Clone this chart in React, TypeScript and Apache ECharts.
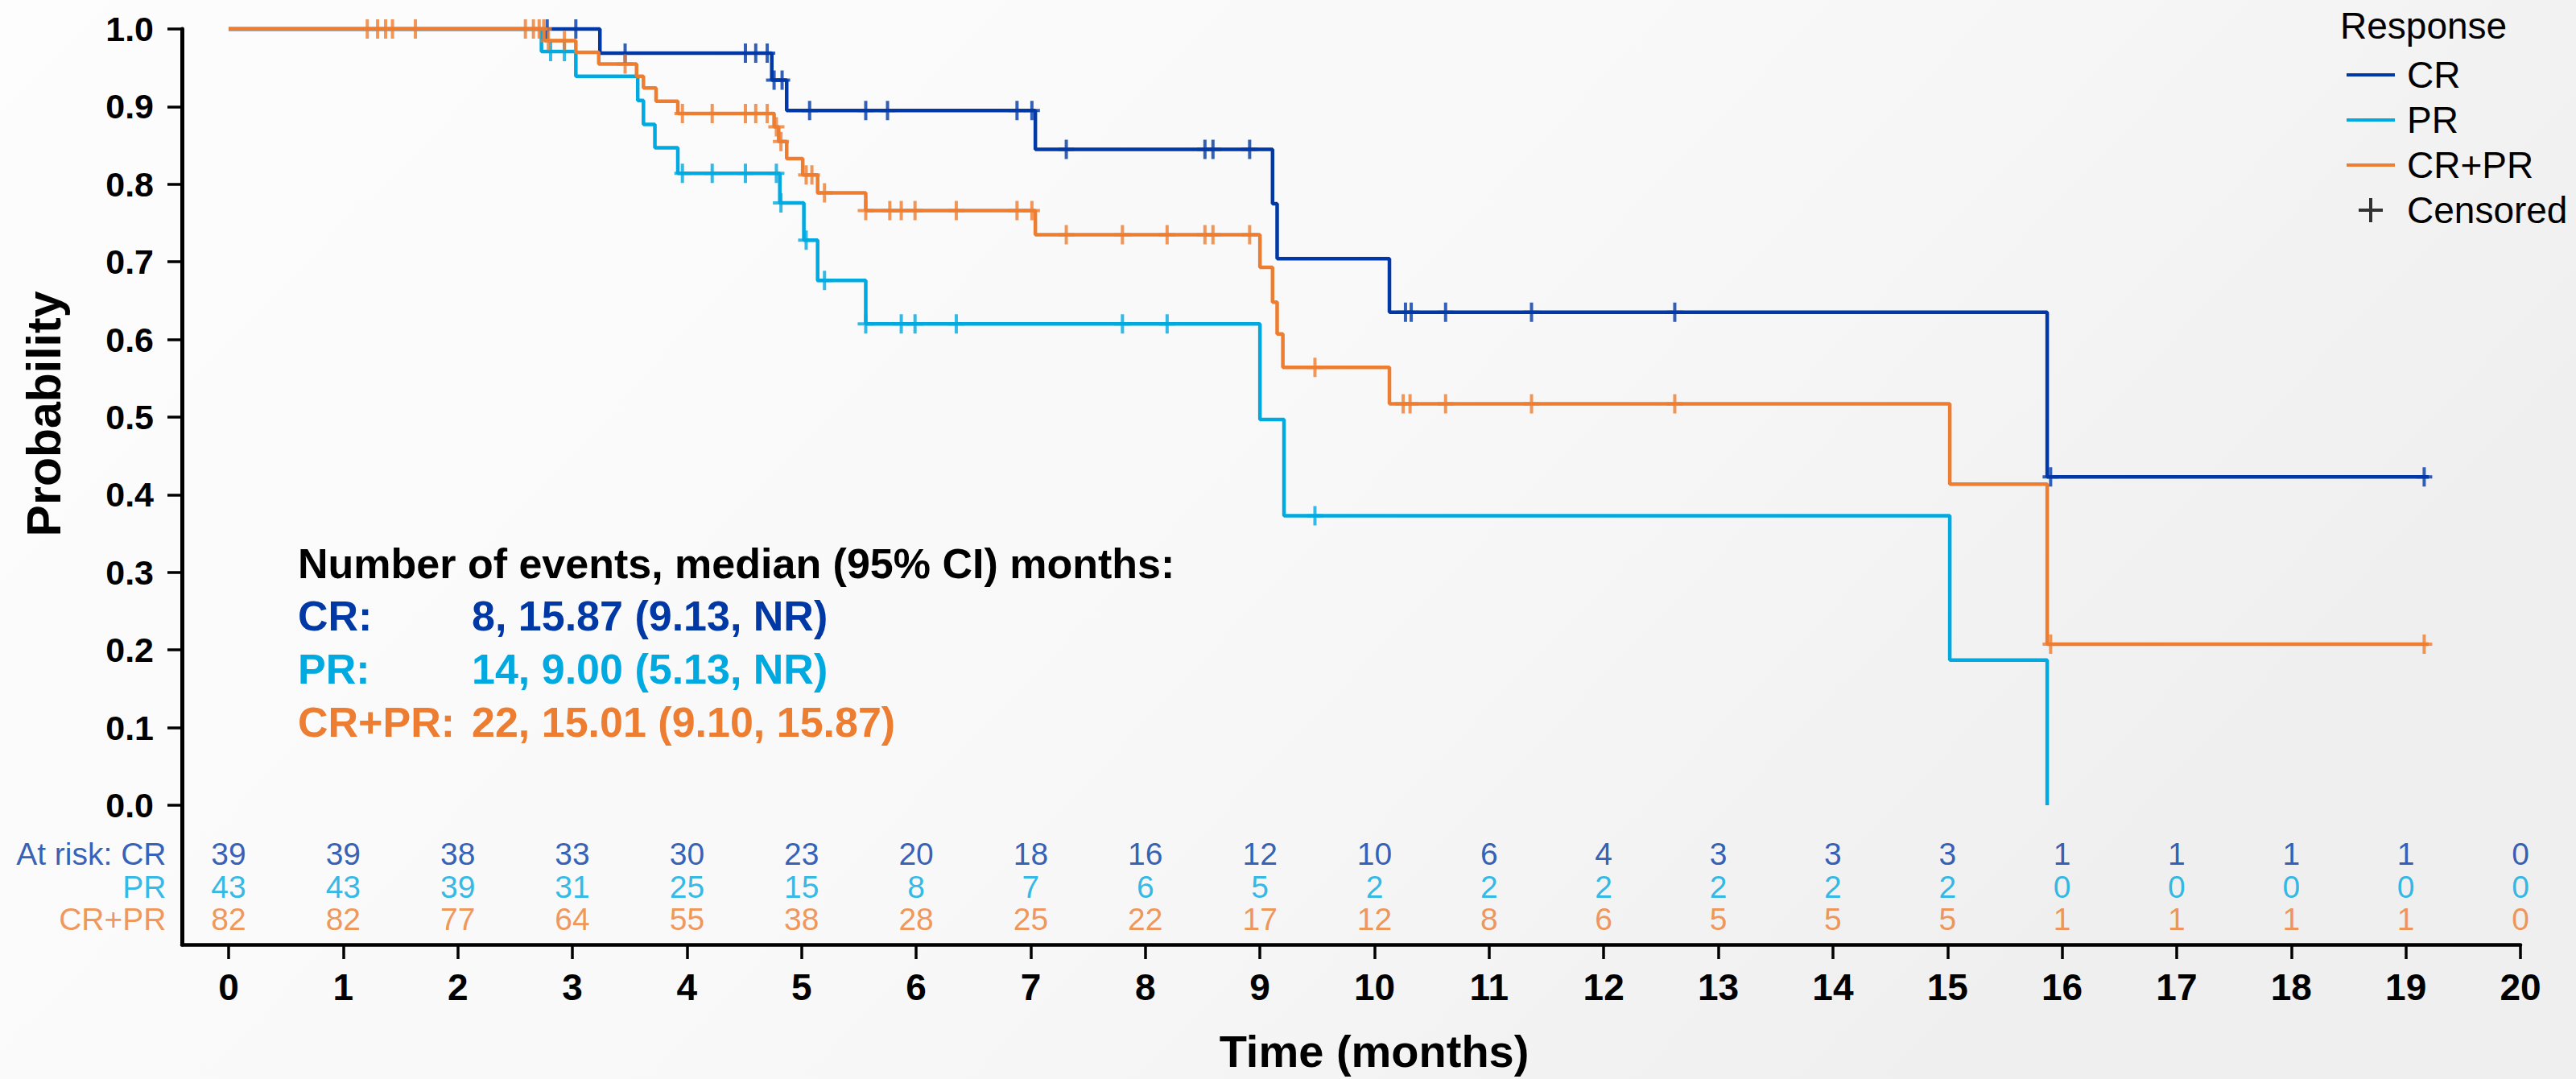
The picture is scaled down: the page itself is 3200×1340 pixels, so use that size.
import { useEffect, useRef } from "react";
import * as echarts from "echarts";

// ---------- data ----------
const MONTHS = [0, 1, 2, 3, 4, 5, 6, 7, 8, 9, 10, 11, 12, 13, 14, 15, 16, 17, 18, 19, 20];
const Y_TICKS = [0, 0.1, 0.2, 0.3, 0.4, 0.5, 0.6, 0.7, 0.8, 0.9, 1.0];

const AT_RISK_CR = [39, 39, 38, 33, 30, 23, 20, 18, 16, 12, 10, 6, 4, 3, 3, 3, 1, 1, 1, 1, 0];
const AT_RISK_PR = [43, 43, 39, 31, 25, 15, 8, 7, 6, 5, 2, 2, 2, 2, 2, 2, 0, 0, 0, 0, 0];
const AT_RISK_ALL = [82, 82, 77, 64, 55, 38, 28, 25, 22, 17, 12, 8, 6, 5, 5, 5, 1, 1, 1, 1, 0];

// Kaplan-Meier step points (time in months, survival probability)
const CR_TIMES = [0, 3.24, 4.74, 4.87, 7.04, 9.11, 9.15, 10.13, 15.87, 19.2];
const CR_SURV = [1, 0.969, 0.934, 0.895, 0.845, 0.775, 0.704, 0.635, 0.423, 0.423];
const PR_TIMES = [0, 2.73, 3.03, 3.57, 3.62, 3.72, 3.92, 4.81, 5.02, 5.14, 5.56, 9.0, 9.21, 15.02, 15.87];
const PR_SURV = [1, 0.971, 0.939, 0.908, 0.877, 0.847, 0.814, 0.776, 0.728, 0.676, 0.62, 0.497, 0.373, 0.187, 0.0];
const ALL_TIMES = [0, 2.76, 3.03, 3.23, 3.56, 3.62, 3.73, 3.92, 4.76, 4.8, 4.87, 5.01, 5.14, 5.56, 7.04, 9.0, 9.11, 9.15, 9.2, 10.13, 15.02, 15.87, 19.2];
const ALL_SURV = [1, 0.985, 0.97, 0.955, 0.939, 0.924, 0.907, 0.891, 0.874, 0.855, 0.833, 0.812, 0.789, 0.766, 0.735, 0.693, 0.648, 0.607, 0.564, 0.517, 0.4135, 0.2075, 0.2075];

// censoring times
const CR_CENSORED = [2.78, 3.03, 3.46, 4.51, 4.6, 4.7, 4.76, 4.83, 5.07, 5.56, 5.75, 6.88, 7.01, 7.31, 8.52, 8.59, 8.91, 10.27, 10.32, 10.62, 11.37, 12.62, 15.9, 19.16];
const PR_CENSORED = [2.81, 2.93, 3.96, 4.22, 4.51, 4.78, 4.82, 5.04, 5.2, 5.56, 5.87, 5.99, 6.35, 7.8, 8.19, 9.48];
const ALL_CENSORED = [1.21, 1.3, 1.37, 1.43, 1.63, 2.59, 2.66, 2.71, 2.75, 2.79, 2.93, 3.46, 3.96, 4.22, 4.51, 4.6, 4.7, 4.78, 4.82, 5.04, 5.09, 5.2, 5.56, 5.77, 5.87, 5.99, 6.35, 6.88, 7.01, 7.31, 7.8, 8.19, 8.52, 8.59, 8.91, 9.48, 10.25, 10.31, 10.62, 11.37, 12.62, 15.9, 19.16];

const GROUPS = ["CR", "PR", "CR+PR"];
const RISK_ROW_LABELS = ["At risk: CR", "PR", "CR+PR"];
const MEDIAN_HEADER = "Number of events, median (95% CI) months:";
const MEDIAN_LABELS = ["CR:", "PR:", "CR+PR:"];
const MEDIAN_VALUES = ["8, 15.87 (9.13, NR)", "14, 9.00 (5.13, NR)", "22, 15.01 (9.10, 15.87)"];

// ---------- style / layout ----------
const FONT = "'Liberation Sans', Arial, Helvetica, sans-serif";
const COLORS = ["#0039a6", "#00a9e0", "#ed7d31"];
const X_MIN = -0.4075; // x axis runs left of 0 to meet the y axis
const Y_MIN = -0.1795; // room for the at-risk table below 0
const RISK_ROW_Y = [-0.0633, -0.1058, -0.1473];
const PLUS_SYMBOL = "path://M0,10H20V14H0Z M8,0H12V24H8Z";
const LINE_ICON = "path://M0,0H60V4H0Z";
const PLUS_ICON = "path://M0,13H30V17H0Z M13,0H17V30H13Z";

function survivalAt(times: number[], surv: number[], t: number): number {
  let s = surv[0];
  for (let i = 0; i < times.length; i++) {
    if (times[i] <= t + 1e-9) s = surv[i];
  }
  return s;
}

export default function App() {
  const ref = useRef<HTMLDivElement>(null);

  useEffect(() => {
    if (!ref.current) return;
    const chart = echarts.init(ref.current, undefined, { renderer: "svg" });

    const curves = [
      { name: GROUPS[0], times: CR_TIMES, surv: CR_SURV, cens: CR_CENSORED, risk: AT_RISK_CR },
      { name: GROUPS[1], times: PR_TIMES, surv: PR_SURV, cens: PR_CENSORED, risk: AT_RISK_PR },
      { name: GROUPS[2], times: ALL_TIMES, surv: ALL_SURV, cens: ALL_CENSORED, risk: AT_RISK_ALL },
    ];

    const series: any[] = [];
    curves.forEach((c, i) => {
      series.push({
        type: "line",
        name: c.name,
        step: "end",
        data: c.times.map((t, k) => [t, c.surv[k]]),
        showSymbol: false,
        clip: false,
        lineStyle: { color: COLORS[i], width: 4.5 },
        itemStyle: { color: COLORS[i] },
        z: 2 + i,
        silent: true,
      });
    });
    curves.forEach((c, i) => {
      series.push({
        type: "scatter",
        name: c.name + " censored",
        data: c.cens.map((t) => [t, survivalAt(c.times, c.surv, t)]),
        symbol: PLUS_SYMBOL,
        symbolSize: [20, 24],
        itemStyle: { color: COLORS[i] },
        clip: false,
        z: 6 + i,
        silent: true,
      });
    });
    series.push({
      type: "scatter",
      name: "Censored",
      data: [],
      itemStyle: { color: "#000" },
    });
    curves.forEach((c, i) => {
      series.push({
        type: "scatter",
        name: "risk " + c.name,
        data: MONTHS.map((m, k) => [m, RISK_ROW_Y[i], c.risk[k]]),
        symbolSize: 1,
        itemStyle: { color: "rgba(0,0,0,0)" },
        clip: false,
        silent: true,
        label: {
          show: true,
          position: "inside",
          formatter: (p: any) => String(p.value[2]),
          color: COLORS[i],
          fontSize: 39,
          fontFamily: FONT,
        },
      });
    });
    series.push({
      type: "scatter",
      name: "risk labels",
      data: RISK_ROW_LABELS.map((lab, i) => ({
        value: [X_MIN, RISK_ROW_Y[i]],
        label: { formatter: lab, color: COLORS[i] },
      })),
      symbolSize: 1,
      itemStyle: { color: "rgba(0,0,0,0)" },
      clip: false,
      silent: true,
      label: { show: true, position: "left", distance: 19, fontSize: 39, fontFamily: FONT },
    });

    const textEl = (text: string, x: number, y: number, font: string, fill: string, extra: any = {}) => ({
      type: "text",
      x,
      y,
      silent: true,
      ...extra,
      style: {
        text,
        font,
        fill,
        textAlign: extra.align || "left",
        textVerticalAlign: "middle",
        align: extra.align || "left",
        verticalAlign: "middle",
      },
    });

    const graphics: any[] = [
      textEl("Response", 2907, 32, `46px ${FONT}`, "#000"),
      textEl("Probability", 55, 514, `bold 59px ${FONT}`, "#000", { rotation: Math.PI / 2, align: "center" }),
      textEl("Time (months)", 1707, 1305, `bold 56px ${FONT}`, "#000", { align: "center" }),
      textEl(MEDIAN_HEADER, 370, 700, `bold 52px ${FONT}`, "#000"),
    ];
    MEDIAN_LABELS.forEach((lab, i) => {
      graphics.push(textEl(lab, 370, 765 + i * 66, `bold 52px ${FONT}`, COLORS[i]));
      graphics.push(textEl(MEDIAN_VALUES[i], 586, 765 + i * 66, `bold 52px ${FONT}`, COLORS[i]));
    });

    const option: any = {
      animation: false,
      backgroundColor: {
        type: "linear",
        x: 0,
        y: 0,
        x2: 1,
        y2: 0.4,
        colorStops: [
          { offset: 0, color: "#fdfdfd" },
          { offset: 0.6, color: "#f8f8f8" },
          { offset: 1, color: "#efefef" },
        ],
      },
      grid: { left: 226, right: 69, top: 36, bottom: 167, containLabel: false },
      legend: {
        show: true,
        orient: "vertical",
        left: 2910,
        top: 65,
        itemWidth: 60,
        itemHeight: 30,
        itemGap: 10,
        selectedMode: false,
        textStyle: { fontSize: 46, lineHeight: 46, fontFamily: FONT, color: "#000", padding: [0, 0, 0, 10] },
        data: [
          { name: GROUPS[0], icon: LINE_ICON },
          { name: GROUPS[1], icon: LINE_ICON },
          { name: GROUPS[2], icon: LINE_ICON },
          { name: "Censored", icon: PLUS_ICON },
        ],
      },
      xAxis: {
        type: "value",
        min: X_MIN,
        max: 20,
        axisLine: { show: true, onZero: false, lineStyle: { color: "#000", width: 4.5 } },
        axisTick: { show: true, customValues: MONTHS, length: 18, lineStyle: { color: "#000", width: 3.5 } },
        axisLabel: {
          show: true,
          customValues: MONTHS,
          margin: 30,
          fontSize: 46,
          fontWeight: "bold",
          fontFamily: FONT,
          color: "#000",
        },
        splitLine: { show: false },
      },
      yAxis: {
        type: "value",
        min: Y_MIN,
        max: 1,
        axisLine: { show: true, onZero: false, lineStyle: { color: "#000", width: 5 } },
        axisTick: { show: true, customValues: Y_TICKS, length: 18, lineStyle: { color: "#000", width: 3.5 } },
        axisLabel: {
          show: true,
          customValues: Y_TICKS,
          margin: 35,
          formatter: (v: number) => v.toFixed(1),
          fontSize: 43,
          fontWeight: "bold",
          fontFamily: FONT,
          color: "#000",
        },
        splitLine: { show: false },
      },
      graphic: graphics,
      series,
    };

    chart.setOption(option);
    return () => chart.dispose();
  }, []);

  return (
    <div
      ref={ref}
      style={{ position: "absolute", left: 0, top: 0, width: 3200, height: 1340 }}
    />
  );
}
